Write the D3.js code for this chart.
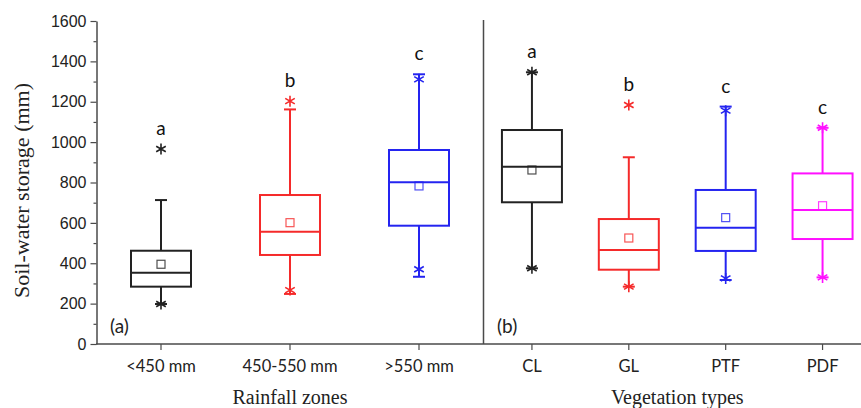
<!DOCTYPE html>
<html>
<head>
<meta charset="utf-8">
<script src="https://cdn.jsdelivr.net/npm/d3@7"></script>
<style>
  html, body { margin: 0; padding: 0; background: #fff; }
  svg { display: block; }
</style>
</head>
<body>
<svg id="chart" width="861" height="408"></svg>
<script>
// Soil-water storage (mm) by rainfall zone and by vegetation type
const zones = ["<450 mm", "450-550 mm", ">550 mm"];
const zoneQ1 = [284, 441, 586];
const zoneMedian = [353, 556, 801];
const zoneQ3 = [462, 738, 961];
const zoneMean = [395, 601, 783];
const zoneWhiskerLow = [198, 248, 333];
const zoneWhiskerHigh = [713, 1162, 1336];
const zoneMin = [198, 267, 370];
const zoneMax = [966, 1203, 1311];
const zoneLetters = ["a", "b", "c"];
const zoneColors = ["#222222", "#f52a2a", "#2424f0"];

const vegTypes = ["CL", "GL", "PTF", "PDF"];
const vegQ1 = [702, 368, 461, 520];
const vegMedian = [878, 466, 576, 664];
const vegQ3 = [1060, 619, 763, 845];
const vegMean = [862, 525, 626, 685];
const vegWhiskerLow = [375, 284, 317, 330];
const vegWhiskerHigh = [1346, 925, 1176, 1071];
const vegMin = [375, 284, 325, 330];
const vegMax = [1346, 1184, 1156, 1071];
const vegLetters = ["a", "b", "c", "c"];
const vegColors = ["#222222", "#f52a2a", "#2424f0", "#ff10ff"];

const yTicks = [0, 200, 400, 600, 800, 1000, 1200, 1400, 1600];

const svg = d3.select("#chart");
const axisColor = "#4a4a4a";
const plotTop = 21, plotBottom = 344, plotLeft = 96.5, divider = 483.5, plotRight = 871;

const y = d3.scaleLinear().domain([0, 1600]).range([plotBottom, plotTop]);
const xZone = d3.scaleBand().domain(zones).range([plotLeft, divider]);
const xVeg = d3.scaleBand().domain(vegTypes).range([divider, plotRight]);

// y axis with minor ticks
const yAxis = d3.axisLeft(y).tickValues(yTicks).tickFormat(d3.format("d"))
  .tickSize(6).tickPadding(4).tickSizeOuter(0);
const gy = svg.append("g").attr("transform", `translate(${plotLeft},0)`).call(yAxis);
gy.select(".domain").attr("stroke", axisColor).attr("stroke-width", 1.5);
gy.selectAll(".tick line").attr("stroke", axisColor).attr("stroke-width", 1.2);
gy.selectAll(".tick text").attr("font-family", "'Liberation Sans', Arial, sans-serif")
  .attr("font-size", 16).attr("fill", "#222");
const yMinor = d3.axisLeft(y).tickValues(d3.range(100, 1600, 200)).tickSize(3).tickFormat("");
const gym = svg.append("g").attr("transform", `translate(${plotLeft},0)`).call(yMinor);
gym.select(".domain").remove();
gym.selectAll(".tick line").attr("stroke", axisColor).attr("stroke-width", 1.2);

// bottom axis line and panel divider
svg.append("line").attr("x1", plotLeft - 0.5).attr("x2", 861).attr("y1", plotBottom).attr("y2", plotBottom)
  .attr("stroke", axisColor).attr("stroke-width", 1.5);
svg.append("line").attr("x1", divider).attr("x2", divider).attr("y1", plotTop - 1).attr("y2", plotBottom)
  .attr("stroke", axisColor).attr("stroke-width", 1.5);

function xAxisPanel(scale) {
  const ax = d3.axisBottom(scale).tickSize(6).tickPadding(10).tickSizeOuter(0);
  const g = svg.append("g").attr("transform", `translate(0,${plotBottom})`).call(ax);
  g.select(".domain").remove();
  g.selectAll(".tick line").attr("stroke", axisColor).attr("stroke-width", 1.2);
  g.selectAll(".tick text").attr("font-family", "Lato, 'Open Sans', sans-serif")
    .attr("font-size", 16.5).attr("fill", "#222");
}
xAxisPanel(xZone);
xAxisPanel(xVeg);

// axis titles
const serif = "'Liberation Serif', 'Times New Roman', serif";
svg.append("text").attr("x", (plotLeft + divider) / 2).attr("y", 404).attr("text-anchor", "middle")
  .attr("font-family", serif).attr("font-size", 20).attr("fill", "#222").text("Rainfall zones");
svg.append("text").attr("x", (divider + plotRight) / 2).attr("y", 404).attr("text-anchor", "middle")
  .attr("font-family", serif).attr("font-size", 20).attr("fill", "#222").text("Vegetation types");
svg.append("text").attr("transform", `translate(29,${(plotTop + plotBottom) / 2 + 8}) rotate(-90)`)
  .attr("text-anchor", "middle").attr("font-family", serif).attr("font-size", 22).attr("fill", "#222")
  .text("Soil-water storage (mm)");

// panel labels
svg.append("text").attr("x", 110).attr("y", 333).attr("font-family", "Lato, sans-serif")
  .attr("font-size", 19).attr("fill", "#222").text("(a)");
svg.append("text").attr("x", 497).attr("y", 333).attr("font-family", "Lato, sans-serif")
  .attr("font-size", 19).attr("fill", "#222").text("(b)");

const boxW = 60, capW = 12, starR = 5.5, meanS = 8;

function star(g, cx, cy, color) {
  const p = d3.path();
  p.moveTo(cx, cy - starR); p.lineTo(cx, cy + starR);
  const dx = starR * 0.87, dy = starR * 0.5;
  p.moveTo(cx - dx, cy - dy); p.lineTo(cx + dx, cy + dy);
  p.moveTo(cx - dx, cy + dy); p.lineTo(cx + dx, cy - dy);
  g.append("path").attr("d", p.toString()).attr("stroke", color).attr("stroke-width", 1.6).attr("fill", "none");
}

function drawBoxes(scale, cats, q1, med, q3, mean, wLo, wHi, mn, mx, letters, colors) {
  cats.forEach((c, i) => {
    const cx = scale(c) + scale.bandwidth() / 2;
    const col = colors[i];
    const g = svg.append("g");
    // whiskers
    g.append("line").attr("x1", cx).attr("x2", cx).attr("y1", y(q3[i])).attr("y2", y(wHi[i]))
      .attr("stroke", col).attr("stroke-width", 2);
    g.append("line").attr("x1", cx).attr("x2", cx).attr("y1", y(q1[i])).attr("y2", y(wLo[i]))
      .attr("stroke", col).attr("stroke-width", 2);
    [wLo[i], wHi[i]].forEach(v => {
      g.append("line").attr("x1", cx - capW / 2).attr("x2", cx + capW / 2).attr("y1", y(v)).attr("y2", y(v))
        .attr("stroke", col).attr("stroke-width", 2);
    });
    // box with median
    g.append("rect").attr("x", cx - boxW / 2).attr("y", y(q3[i])).attr("width", boxW)
      .attr("height", y(q1[i]) - y(q3[i])).attr("fill", "none").attr("stroke", col).attr("stroke-width", 2);
    g.append("line").attr("x1", cx - boxW / 2).attr("x2", cx + boxW / 2).attr("y1", y(med[i])).attr("y2", y(med[i]))
      .attr("stroke", col).attr("stroke-width", 2);
    // mean
    g.append("rect").attr("x", cx - meanS / 2).attr("y", y(mean[i]) - meanS / 2).attr("width", meanS)
      .attr("height", meanS).attr("fill", "none").attr("stroke", col).attr("stroke-width", 1.2).attr("opacity", 0.8);
    // extremes
    star(g, cx, y(mn[i]), col);
    star(g, cx, y(mx[i]), col);
    // significance letter
    const top = Math.max(wHi[i], mx[i]);
    g.append("text").attr("x", cx).attr("y", y(top) - 14).attr("text-anchor", "middle")
      .attr("font-family", "Lato, sans-serif").attr("font-size", 19).attr("fill", "#111").text(letters[i]);
  });
}

drawBoxes(xZone, zones, zoneQ1, zoneMedian, zoneQ3, zoneMean, zoneWhiskerLow, zoneWhiskerHigh, zoneMin, zoneMax, zoneLetters, zoneColors);
drawBoxes(xVeg, vegTypes, vegQ1, vegMedian, vegQ3, vegMean, vegWhiskerLow, vegWhiskerHigh, vegMin, vegMax, vegLetters, vegColors);
</script>
</body>
</html>
